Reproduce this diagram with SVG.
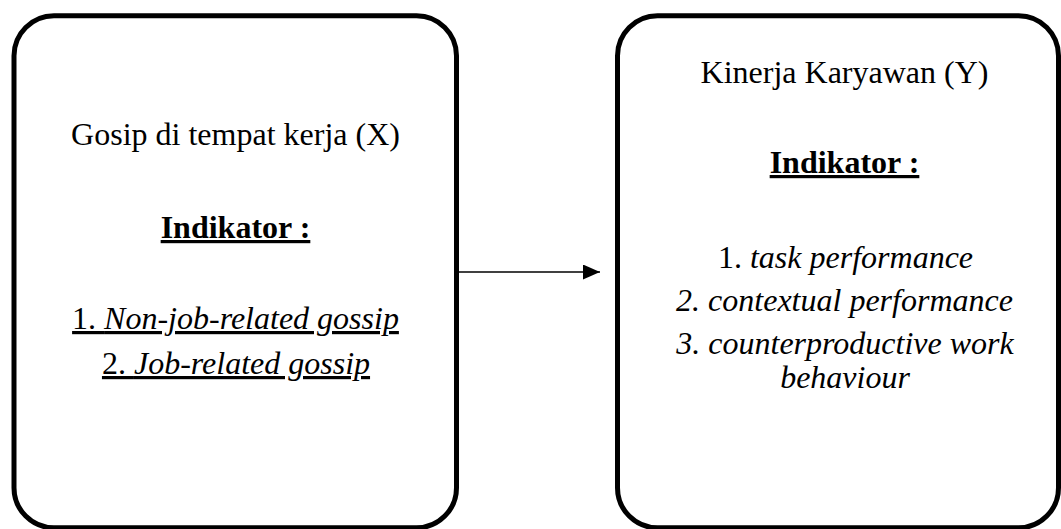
<svg xmlns="http://www.w3.org/2000/svg" width="1061" height="529" viewBox="0 0 1061 529">
<style>
.box{fill:#fff;stroke:#000;stroke-width:5}
text{font-family:"Liberation Serif","Times New Roman",serif;font-size:32px;fill:#000;text-anchor:middle}
.b{font-weight:bold}
.u{text-decoration:underline}
.i{font-style:italic}
.conn{stroke:#000;stroke-width:1.5;fill:none}
</style>
<defs>
<marker id="arr" viewBox="0 0 17 15" refX="17" refY="7.5" markerWidth="17" markerHeight="15" markerUnits="userSpaceOnUse" orient="auto">
<path d="M0,0 L17,7.5 L0,15 Z" fill="#000"/>
</marker>
</defs>
<rect width="1061" height="529" fill="#fff"/>
<g id="nodeX">
<rect class="box" x="14" y="15.8" width="442.5" height="512" rx="40" ry="40"/>
<text x="235.5" y="145">Gosip di tempat kerja (X)</text>
<text class="b u" x="235.5" y="238">Indikator :</text>
<text class="u" x="235.5" y="329">1. <tspan class="i">Non-job-related gossip</tspan></text>
<text class="u" x="236" y="374">2. <tspan class="i">Job-related gossip</tspan></text>
</g>
<g id="nodeY">
<rect class="box" x="617.5" y="15.8" width="441" height="512" rx="40" ry="40"/>
<text x="844.5" y="83">Kinerja Karyawan (Y)</text>
<text class="b u" x="844.5" y="173">Indikator :</text>
<text x="845.5" y="268">1. <tspan class="i">task performance</tspan></text>
<text class="i" x="844.5" y="311">2. contextual performance</text>
<text class="i" x="845" y="354">3. counterproductive work</text>
<text class="i" x="845" y="388">behaviour</text>
</g>
<g id="connectors">
<line class="conn" x1="459" y1="272" x2="600" y2="272" marker-end="url(#arr)"/>
</g>
</svg>
